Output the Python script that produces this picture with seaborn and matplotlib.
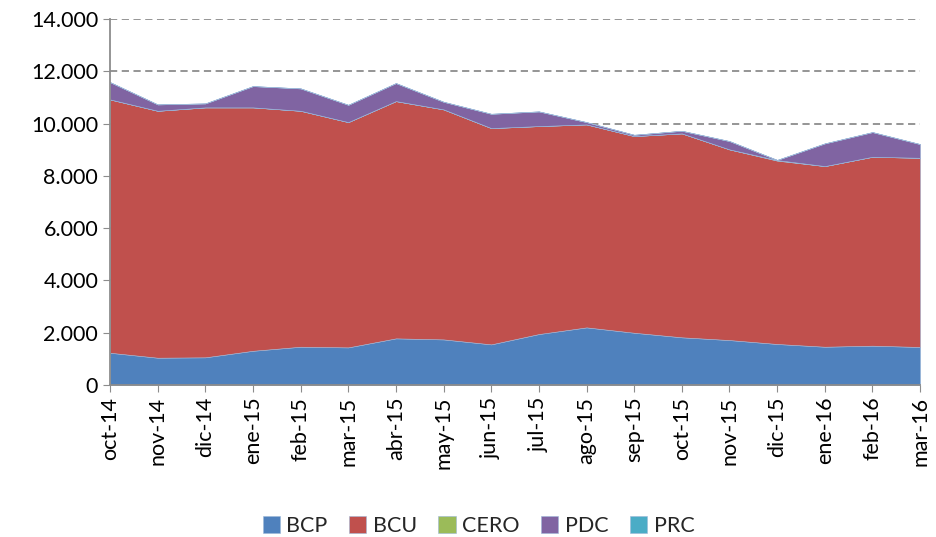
#!/usr/bin/env python3

# import packages
import numpy as np
import seaborn as sns
import matplotlib.pyplot as plt
from matplotlib.ticker import FuncFormatter

# data
months = ['oct-14', 'nov-14', 'dic-14', 'ene-15', 'feb-15', 'mar-15', 'abr-15', 'may-15', 'jun-15',
          'jul-15', 'ago-15', 'sep-15', 'oct-15', 'nov-15', 'dic-15', 'ene-16', 'feb-16', 'mar-16']
bcp = [1235, 1045, 1060, 1310, 1465, 1440, 1785, 1745, 1555,
       1950, 2205, 2000, 1825, 1720, 1570, 1465, 1505, 1455]
bcu = [9690, 9445, 9560, 9310, 9025, 8617, 9075, 8798, 8273,
       7955, 7764, 7522, 7800, 7293, 7014, 6910, 7226, 7237]
cero = [0, 0, 0, 0, 0, 0, 0, 0, 0,
        0, 0, 0, 0, 0, 20, 0, 0, 0]
pdc = [662, 244, 152, 814, 856, 662, 689, 291, 547,
       561, 88, 50, 100, 318, 7, 868, 944, 524]
prc = [0, 0, 0, 0, 0, 0, 0, 0, 0,
       0, 0, 0, 0, 0, 0, 0, 0, 0]
series = ['BCP', 'BCU', 'CERO', 'PDC', 'PRC']
colors = ['#4F81BD', '#C0504D', '#9BBB59', '#8064A2', '#4BACC6']

# style
sns.set_style('white')
plt.rcParams['font.family'] = ['Lato', 'DejaVu Sans']

f = plt.figure(figsize=(9.36, 5.37), dpi=100)
ax = f.add_axes([0.1175, 0.283, 0.8655, 0.6816])

x = np.arange(len(months))
ax.stackplot(x, bcp, bcu, cero, pdc, prc, labels=series, colors=colors,
             edgecolor='#9db8d9', linewidth=0.4)

ax.set_xlim(0, len(months) - 1)
ax.set_ylim(0, 14000)
ax.set_yticks(np.arange(0, 14001, 2000))
ax.yaxis.set_major_formatter(FuncFormatter(lambda v, p: f'{int(v):,}'.replace(',', '.')))
for yv in range(2000, 14001, 2000):
    ax.axhline(yv, color='#8c8c8c', linestyle=(0, (4, 2.5)), linewidth=1.3, zorder=0)

ax.set_xticks(x)
ax.set_xticklabels(months, rotation=90)
ax.tick_params(axis='both', labelsize=15.5, labelcolor='black', length=5, color='#8c8c8c',
               direction='out', bottom=True, left=True)

for s in ['top', 'right']:
    ax.spines[s].set_visible(False)
for s in ['left', 'bottom']:
    ax.spines[s].set_color('#8c8c8c')
    ax.spines[s].set_linewidth(1.3)

ax.legend(loc='center', bbox_to_anchor=(0.455, -0.385), ncol=5, frameon=False,
          fontsize=15.5, handlelength=0.8, handleheight=0.8, handletextpad=0.3, columnspacing=1.0)

plt.savefig('out.png', dpi=100)
